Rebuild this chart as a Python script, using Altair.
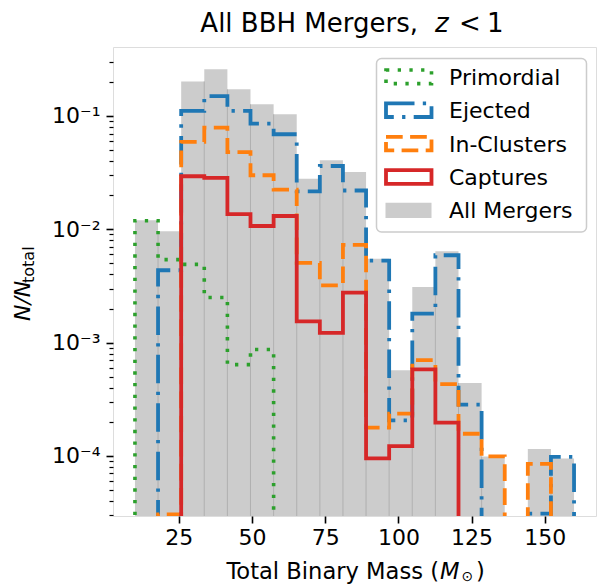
import altair as alt
import pandas as pd

# ---------------- data ----------------
bin_edges = [10.0, 17.89, 25.79, 33.68, 41.58, 49.47, 57.37, 65.26, 73.16, 81.05,
             88.95, 96.84, 104.74, 112.63, 120.53, 128.42, 136.32, 144.21, 152.11, 160.0]

primordial = [0.0119, 0.0054, 0.0049, 0.0025, 0.00064, 0.00087, 0, 0, 0, 0,
              0, 0, 0, 0, 0, 0, 0, 0, 0]
ejected = [0, 0.00435, 0.111, 0.150, 0.111, 0.0857, 0.069, 0.0216, 0.0362, 0.022,
           0.0053, 0.000206, 0.0018, 0.0059, 0.000284, 0, 0, 0.000031, 0.000098]
in_clusters = [0, 0.0000305, 0.059, 0.079, 0.048, 0.030, 0.0224, 0.00505, 0.0032, 0.0073,
               0.000178, 0.000236, 0.00070, 0.00043, 0.000157, 0.000099, 0, 0.000085, 0]
captures = [0, 0, 0.0294, 0.0284, 0.0136, 0.0107, 0.0131, 0.00154, 0.00122, 0.00276,
            0.000095, 0.000122, 0.00058, 0.000197, 0, 0, 0, 0, 0]
all_mergers = [0.012, 0.0096, 0.202, 0.258, 0.172, 0.127, 0.1035, 0.028, 0.0406, 0.032,
               0.0055, 0.00057, 0.0031, 0.0064, 0.00044, 0.000099, 0, 0.000115, 0.000095]

series_names = ["Primordial", "Ejected", "In-Clusters", "Captures"]
series_values = [primordial, ejected, in_clusters, captures]
series_colors = ["#2ca02c", "#1f77b4", "#ff7f0e", "#d62728"]
series_dash = [[3.3, 8.4], [28.5, 8.3, 3.3, 8.3], [16.7, 7.4], []]
series_width = [3.6, 3.8, 3.8, 3.8]
gray = "#cccccc"

x_ticks = [25, 50, 75, 100, 125, 150]
y_decades = [1e-4, 1e-3, 1e-2, 1e-1]
y_minor = [3e-5, 4e-5, 5e-5, 6e-5, 7e-5, 8e-5, 9e-5,
           2e-4, 3e-4, 4e-4, 5e-4, 6e-4, 7e-4, 8e-4, 9e-4,
           2e-3, 3e-3, 4e-3, 5e-3, 6e-3, 7e-3, 8e-3, 9e-3,
           2e-2, 3e-2, 4e-2, 5e-2, 6e-2, 7e-2, 8e-2, 9e-2,
           2e-1, 3e-1]
decade_labels = {-4: "10⁻⁴", -3: "10⁻³", -2: "10⁻²", -1: "10⁻¹"}

# ---------------- layout ----------------
W, H = 483, 469
FONT = "DejaVu Sans"
FLOOR = 1e-7

xscale = alt.Scale(domain=[2.5, 167.5], nice=False, zero=False)
yscale = alt.Scale(type="log", domain=[2.95e-5, 0.4064], nice=False)

is_decade = "abs(log(datum.value)/LN10 - round(log(datum.value)/LN10)) < 0.001"
expo = "round(log(datum.value)/LN10)"
lab = "''"
for e, s in decade_labels.items():
    lab = f"({expo} == {e} ? '{s}' : {lab})"
label_expr = f"{is_decade} ? {lab} : ''"

xaxis = alt.Axis(values=x_ticks, title=None, grid=False, domain=False,
                 tickSize=7, tickWidth=1.6, tickColor="black",
                 labelFont=FONT, labelFontSize=22, labelColor="black",
                 labelPadding=4, labelFlush=False, labelOverlap=False)
yaxis = alt.Axis(values=y_decades + y_minor, title=None, grid=False, domain=False,
                 tickSize={"condition": {"test": is_decade, "value": 7}, "value": 4},
                 tickWidth={"condition": {"test": is_decade, "value": 1.6}, "value": 1.2},
                 tickColor="black", labelExpr=label_expr,
                 labelFont=FONT, labelFontSize=22, labelColor="black",
                 labelPadding=6, labelOverlap=False, labelFlush=False)

# gray bars
bars_df = pd.DataFrame({
    "x0": bin_edges[:-1], "x1": bin_edges[1:], "v": all_mergers
})
bars_df = bars_df[bars_df["v"] > 0]
bars = alt.Chart(bars_df).mark_rect(color=gray).encode(
    x=alt.X("x0:Q", scale=xscale, axis=xaxis),
    x2="x1:Q",
    y=alt.Y("v:Q", scale=yscale, axis=yaxis),
    y2=alt.value(H),
)

# faint separators between adjacent gray bars
sep_rows = []
for k in range(1, len(all_mergers)):
    a, b = all_mergers[k - 1], all_mergers[k]
    if a > 0 and b > 0:
        sep_rows.append({"x": bin_edges[k], "v": min(a, b)})
seps = alt.Chart(pd.DataFrame(sep_rows)).mark_rule(color="#aaaaaa", strokeWidth=0.9).encode(
    x=alt.X("x:Q", scale=xscale, axis=xaxis),
    y=alt.Y("v:Q", scale=yscale, axis=yaxis),
    y2=alt.value(H),
)

# step outlines
def step_df(vals):
    rows = [{"i": 0, "x": bin_edges[0], "y": FLOOR}]
    for j, v in enumerate(vals):
        y = v if v > 0 else FLOOR
        rows.append({"i": len(rows), "x": bin_edges[j], "y": y})
        rows.append({"i": len(rows), "x": bin_edges[j + 1], "y": y})
    rows.append({"i": len(rows), "x": bin_edges[-1], "y": FLOOR})
    return pd.DataFrame(rows)

lines = []
for name, vals, col, dash, sw in zip(series_names, series_values, series_colors,
                                      series_dash, series_width):
    kw = dict(color=col, strokeWidth=sw, clip=True, strokeCap="butt", strokeJoin="miter")
    if dash:
        kw["strokeDash"] = dash
    lines.append(alt.Chart(step_df(vals)).mark_line(**kw).encode(
        x=alt.X("x:Q", scale=xscale, axis=xaxis),
        y=alt.Y("y:Q", scale=yscale, axis=yaxis),
        order="i:Q",
    ))

one = pd.DataFrame({"t": [""]})

# legend
legend_layers = [
    alt.Chart(one).mark_rect(fill="white", fillOpacity=0.85, stroke="#cccccc",
                              strokeWidth=1.5, cornerRadius=5).encode(
        x=alt.value(263.5), x2=alt.value(473.5), y=alt.value(11.6), y2=alt.value(185))
]
legend_names = series_names + ["All Mergers"]
for i, name in enumerate(legend_names):
    cy = 29.8 + 33.4 * i
    if i < len(series_names):
        kw = dict(fill=None, stroke=series_colors[i], strokeWidth=series_width[i],
                  strokeCap="butt", strokeJoin="miter")
        if series_dash[i]:
            kw["strokeDash"] = series_dash[i]
        legend_layers.append(alt.Chart(one).mark_rect(**kw).encode(
            x=alt.value(273), x2=alt.value(318.5), y=alt.value(cy - 6.8), y2=alt.value(cy + 6.8)))
    else:
        legend_layers.append(alt.Chart(one).mark_rect(fill=gray).encode(
            x=alt.value(272.5), x2=alt.value(318.5), y=alt.value(cy - 7.6), y2=alt.value(cy + 7.6)))
    legend_layers.append(alt.Chart(pd.DataFrame({"t": [name]})).mark_text(
        font=FONT, fontSize=22, align="left", baseline="middle", color="black").encode(
        x=alt.value(336), y=alt.value(cy + 1), text="t:N"))

# text pieces: title, axis titles
def txt(s, x, y, size=22, style="normal", angle=0, align="left", baseline="alphabetic"):
    kw = dict(font=FONT, fontSize=size, fontStyle=style, align=align,
              baseline=baseline, color="black")
    if angle:
        kw["angle"] = angle
    return alt.Chart(pd.DataFrame({"t": [s]})).mark_text(**kw).encode(
        x=alt.value(x), y=alt.value(y), text="t:N")

texts = [
    txt("All BBH Mergers,", 305, -15.5, size=26, align="right"),
    txt("z", 322, -15.5, size=26, style="italic"),
    txt("<", 346, -15.5, size=26),
    txt("1", 374, -15.5, size=26),
    txt("Total Binary Mass (", 326, 532, size=22.6, align="right"),
    txt("M", 327, 532, size=22.6, style="italic"),
    txt("⊙", 348.5, 534, size=14),
    txt(")", 363, 532, size=22.6),
    txt("N/N", -83, 274, style="italic", angle=270),
    txt("total", -79, 236, size=16, angle=270),
]

chart = alt.layer(bars, seps, *lines, *legend_layers, *texts).properties(
    width=W, height=H,
    autosize=alt.AutoSizeParams(type="none"),
    padding={"left": 113, "top": 47, "right": 1, "bottom": 69},
).configure_view(stroke="black", strokeWidth=2).configure(background="white")

chart.save("out.html", embed_options={"renderer": "svg", "actions": False})
